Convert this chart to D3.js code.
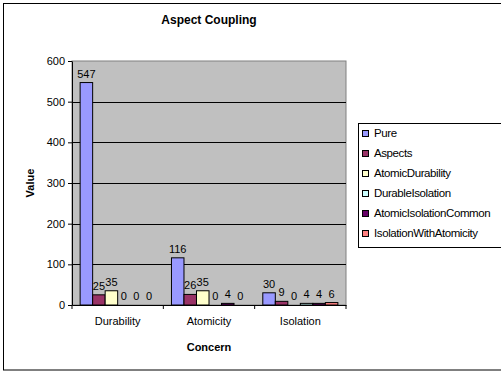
<!DOCTYPE html>
<html>
<head>
<meta charset="utf-8">
<script src="https://cdn.jsdelivr.net/npm/d3@7"></script>
<style>
  body { margin: 0; background: #fff; }
  text { font-family: "Liberation Sans", Arial, sans-serif; fill: #000; }
</style>
</head>
<body>
<svg id="chart" width="501" height="372"></svg>
<script>
// chart data
var concerns = ["Durability", "Atomicity", "Isolation"];
var seriesNames = ["Pure", "Aspects", "AtomicDurability", "DurableIsolation", "AtomicIsolationCommon", "IsolationWithAtomicity"];
var seriesColors = ["#9999ff", "#993366", "#ffffcc", "#ccffff", "#660066", "#ff8080"];
var pure = [547, 116, 30];
var aspects = [25, 26, 9];
var atomicDurability = [35, 35, 0];
var durableIsolation = [0, 0, 4];
var atomicIsolationCommon = [0, 4, 4];
var isolationWithAtomicity = [0, 0, 6];
var yTicks = [0, 100, 200, 300, 400, 500, 600];

var seriesValues = [pure, aspects, atomicDurability, durableIsolation, atomicIsolationCommon, isolationWithAtomicity];

var svg = d3.select("#chart");

// outer frame
svg.append("rect")
    .attr("x", 3.5).attr("y", 3.5)
    .attr("width", 510).attr("height", 366.5)
    .attr("fill", "#fff").attr("stroke", "#000").attr("stroke-width", 1);

var plot = {left: 72, top: 61, right: 346, bottom: 305};

var x0 = d3.scaleBand()
    .domain(concerns)
    .range([plot.left, plot.right]);

var x1 = d3.scaleBand()
    .domain(seriesNames)
    .range([0, x0.bandwidth()])
    .paddingOuter(0.65);

var y = d3.scaleLinear()
    .domain([0, 600])
    .range([plot.bottom, plot.top]);

// plot background
svg.append("rect")
    .attr("x", plot.left).attr("y", plot.top)
    .attr("width", plot.right - plot.left).attr("height", plot.bottom - plot.top)
    .attr("fill", "#c0c0c0").attr("stroke", "#808080").attr("stroke-width", 1);

// gridlines
svg.selectAll("line.grid")
    .data(yTicks.filter(function (d) { return d > 0 && d < 600; }))
    .enter().append("line")
    .attr("class", "grid")
    .attr("x1", plot.left).attr("x2", plot.right)
    .attr("y1", function (d) { return Math.round(y(d)) + 0.5; })
    .attr("y2", function (d) { return Math.round(y(d)) + 0.5; })
    .attr("stroke", "#000").attr("stroke-width", 1);

// bars
var groups = svg.selectAll("g.concern")
    .data(concerns)
    .enter().append("g")
    .attr("class", "concern")
    .attr("transform", function (d) { return "translate(" + x0(d) + ",0)"; });

groups.selectAll("rect")
    .data(function (d, i) {
        return seriesNames.map(function (s, j) {
            return {name: s, value: seriesValues[j][i], color: seriesColors[j]};
        });
    })
    .enter().append("rect")
    .attr("x", function (d) { return x1(d.name); })
    .attr("y", function (d) { return y(d.value); })
    .attr("width", x1.bandwidth())
    .attr("height", function (d) { return y(0) - y(d.value); })
    .attr("fill", function (d) { return d.color; })
    .attr("stroke", "#000").attr("stroke-width", 1);

groups.selectAll("text.val")
    .data(function (d, i) {
        return seriesNames.map(function (s, j) {
            return {name: s, value: seriesValues[j][i]};
        });
    })
    .enter().append("text")
    .attr("class", "val")
    .attr("x", function (d) { return x1(d.name) + x1.bandwidth() / 2; })
    .attr("y", function (d) { return y(d.value) - 5; })
    .attr("text-anchor", "middle")
    .attr("font-size", 11)
    .text(function (d) { return d.value; });

// axes
var yAxis = d3.axisLeft(y).tickValues(yTicks).tickSize(4).tickSizeOuter(0);
svg.append("g")
    .attr("transform", "translate(" + plot.left + ",0)")
    .call(yAxis)
    .call(function (g) {
        g.select(".domain").attr("stroke", "#000");
        g.selectAll("text").attr("font-size", 11).attr("font-family", "Liberation Sans, Arial, sans-serif");
    });

var xAxis = d3.axisBottom(x0).tickSize(0).tickPadding(12);
svg.append("g")
    .attr("transform", "translate(0," + plot.bottom + ")")
    .call(xAxis)
    .call(function (g) {
        g.select(".domain").attr("stroke", "#000");
        g.selectAll("text").attr("font-size", 11).attr("font-family", "Liberation Sans, Arial, sans-serif");
    });

// category divider ticks
svg.selectAll("line.ctick")
    .data(concerns.concat(["end"]))
    .enter().append("line")
    .attr("x1", function (d, i) { return i < concerns.length ? x0(d) : plot.right; })
    .attr("x2", function (d, i) { return i < concerns.length ? x0(d) : plot.right; })
    .attr("y1", plot.bottom).attr("y2", plot.bottom + 4)
    .attr("stroke", "#000");

// titles
svg.append("text")
    .attr("x", 209).attr("y", 24)
    .attr("text-anchor", "middle")
    .attr("font-size", 12).attr("font-weight", "bold")
    .text("Aspect Coupling");

svg.append("text")
    .attr("x", 209).attr("y", 351)
    .attr("text-anchor", "middle")
    .attr("font-size", 11).attr("font-weight", "bold")
    .text("Concern");

svg.append("text")
    .attr("transform", "translate(34,183) rotate(-90)")
    .attr("text-anchor", "middle")
    .attr("font-size", 11).attr("font-weight", "bold")
    .text("Value");

// legend
var legend = svg.append("g").attr("transform", "translate(358,123)");
legend.append("rect")
    .attr("x", 0.5).attr("y", 0.5)
    .attr("width", 160).attr("height", 124)
    .attr("fill", "#fff").attr("stroke", "#000");

var items = legend.selectAll("g.item")
    .data(seriesNames)
    .enter().append("g")
    .attr("class", "item")
    .attr("transform", function (d, i) { return "translate(0," + (10 + i * 20) + ")"; });

items.append("rect")
    .attr("x", 4.5).attr("y", -2.5)
    .attr("width", 6).attr("height", 6)
    .attr("fill", function (d, i) { return seriesColors[i]; })
    .attr("stroke", "#000");

items.append("text")
    .attr("x", 16).attr("y", 4)
    .attr("font-size", 11.5)
    .attr("letter-spacing", -0.4)
    .text(function (d) { return d; });
</script>
</body>
</html>
